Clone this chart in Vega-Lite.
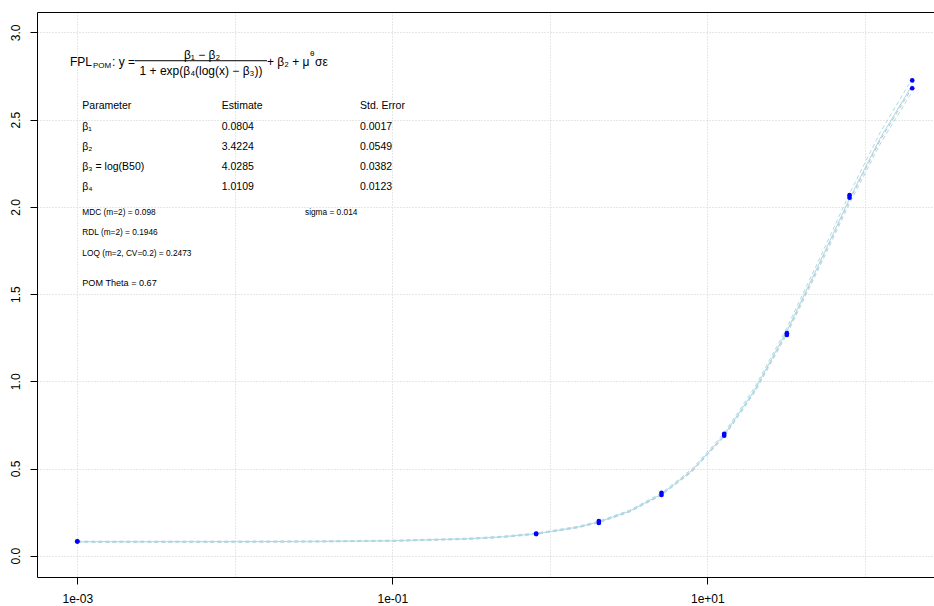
{
  "$schema": "https://vega.github.io/schema/vega-lite/v6.json",
  "width": 897,
  "height": 565,
  "autosize": {"type": "none"},
  "padding": {"left": 37, "top": 12, "right": 0, "bottom": 29},
  "background": "white",
  "view": {"stroke": null},
  "config": {"font": "Liberation Sans", "text": {"font": "Liberation Sans", "color": "#000000"}},
  "resolve": {"axis": {"x": "independent", "y": "independent"}},
  "datasets": {
    "curve": [
      {"x": 0.001, "fit": 0.0805, "upper": 0.0836, "lower": 0.0774, "grey": 0.0782},
      {"x": 0.003, "fit": 0.0806, "upper": 0.0837, "lower": 0.0775, "grey": 0.0783},
      {"x": 0.01, "fit": 0.0809, "upper": 0.0840, "lower": 0.0778, "grey": 0.0786},
      {"x": 0.03, "fit": 0.0820, "upper": 0.0851, "lower": 0.0789, "grey": 0.0797},
      {"x": 0.1, "fit": 0.0859, "upper": 0.0890, "lower": 0.0828, "grey": 0.0836},
      {"x": 0.3, "fit": 0.0972, "upper": 0.1005, "lower": 0.0939, "grey": 0.0948},
      {"x": 0.5, "fit": 0.1084, "upper": 0.1118, "lower": 0.1050, "grey": 0.1060},
      {"x": 0.8192, "fit": 0.1263, "upper": 0.1299, "lower": 0.1227, "grey": 0.1238},
      {"x": 1.5, "fit": 0.1640, "upper": 0.1681, "lower": 0.1599, "grey": 0.1613},
      {"x": 2.048, "fit": 0.1939, "upper": 0.1984, "lower": 0.1894, "grey": 0.1911},
      {"x": 3.2, "fit": 0.2553, "upper": 0.2606, "lower": 0.2500, "grey": 0.2523},
      {"x": 5.12, "fit": 0.3529, "upper": 0.3595, "lower": 0.3463, "grey": 0.3495},
      {"x": 8, "fit": 0.4894, "upper": 0.4978, "lower": 0.4810, "grey": 0.4854},
      {"x": 12.8, "fit": 0.6924, "upper": 0.7034, "lower": 0.6814, "grey": 0.6876},
      {"x": 20, "fit": 0.9506, "upper": 0.9650, "lower": 0.9362, "grey": 0.9448},
      {"x": 32, "fit": 1.2880, "upper": 1.3067, "lower": 1.2693, "grey": 1.2808},
      {"x": 50, "fit": 1.6531, "upper": 1.6766, "lower": 1.6296, "grey": 1.6445},
      {"x": 80, "fit": 2.0469, "upper": 2.0755, "lower": 2.0183, "grey": 2.0367},
      {"x": 125, "fit": 2.3924, "upper": 2.4255, "lower": 2.3593, "grey": 2.3808},
      {"x": 200, "fit": 2.6975, "upper": 2.7346, "lower": 2.6604, "grey": 2.6847}
    ],
    "pts": [
      {"conc": 0.001, "resp": 0.083}, {"conc": 0.001, "resp": 0.081},
      {"conc": 0.8192, "resp": 0.127}, {"conc": 0.8192, "resp": 0.124},
      {"conc": 2.048, "resp": 0.199}, {"conc": 2.048, "resp": 0.188},
      {"conc": 5.12, "resp": 0.361}, {"conc": 5.12, "resp": 0.348},
      {"conc": 12.8, "resp": 0.699}, {"conc": 12.8, "resp": 0.688},
      {"conc": 32, "resp": 1.276}, {"conc": 32, "resp": 1.266},
      {"conc": 80, "resp": 2.067}, {"conc": 80, "resp": 2.052},
      {"conc": 200, "resp": 2.725}, {"conc": 200, "resp": 2.680}
    ],
    "notes": [
      {"x": 0.000899, "y": 2.828, "label": "FPL", "group": "main"},
      {"x": 0.001258, "y": 2.806, "label": "POM", "group": "sub"},
      {"x": 0.001661, "y": 2.828, "label": ": y =", "group": "main"},
      {"x": 0.006189, "y": 2.870, "label": "β₁ − β₂", "group": "center"},
      {"x": 0.006100, "y": 2.7765, "label": "1 + exp(β₄(log(x) − β₃))", "group": "center"},
      {"x": 0.016014, "y": 2.828, "label": "+ β₂ + μ", "group": "main"},
      {"x": 0.030020, "y": 2.878, "label": "θ", "group": "sub"},
      {"x": 0.032296, "y": 2.828, "label": "σε", "group": "main"},
      {"x": 0.0010758, "y": 2.576, "label": "Parameter", "group": "table"},
      {"x": 0.008255, "y": 2.576, "label": "Estimate", "group": "table"},
      {"x": 0.062353, "y": 2.576, "label": "Std. Error", "group": "table"},
      {"x": 0.0010758, "y": 2.459, "label": "β₁", "group": "table"},
      {"x": 0.008255, "y": 2.459, "label": "0.0804", "group": "table"},
      {"x": 0.062353, "y": 2.459, "label": "0.0017", "group": "table"},
      {"x": 0.0010758, "y": 2.345, "label": "β₂", "group": "table"},
      {"x": 0.008255, "y": 2.345, "label": "3.4224", "group": "table"},
      {"x": 0.062353, "y": 2.345, "label": "0.0549", "group": "table"},
      {"x": 0.0010758, "y": 2.230, "label": "β₃ = log(B50)", "group": "table"},
      {"x": 0.008255, "y": 2.230, "label": "4.0285", "group": "table"},
      {"x": 0.062353, "y": 2.230, "label": "0.0382", "group": "table"},
      {"x": 0.0010758, "y": 2.116, "label": "β₄", "group": "table"},
      {"x": 0.008255, "y": 2.116, "label": "1.0109", "group": "table"},
      {"x": 0.062353, "y": 2.116, "label": "0.0123", "group": "table"},
      {"x": 0.0010758, "y": 1.962, "label": "MDC (m=2) = 0.098", "group": "small"},
      {"x": 0.027910, "y": 1.962, "label": "sigma = 0.014", "group": "small"},
      {"x": 0.0010758, "y": 1.848, "label": "RDL (m=2) = 0.1946", "group": "small"},
      {"x": 0.0010758, "y": 1.730, "label": "LOQ (m=2, CV=0.2) = 0.2473", "group": "small"},
      {"x": 0.0010758, "y": 1.561, "label": "POM Theta = 0.67", "group": "pom"}
    ],
    "bar": [
      {"x": 0.002324, "x2": 0.016014, "y": 2.8377}
    ]
  },
  "layer": [
    {
      "data": {"name": "curve"},
      "mark": {"type": "line", "color": "#bebebe", "strokeWidth": 1, "strokeDash": [4, 3]},
      "encoding": {
        "x": {"field": "x", "type": "quantitative",
          "scale": {"type": "log", "domain": [0.0005547, 275.0], "nice": false},
          "axis": {"orient": "top", "grid": true, "values": [0.001, 0.01, 0.1, 1, 10, 100],
            "gridColor": "#cfcfcf", "gridDash": [1, 2], "gridWidth": 1,
            "labels": false, "ticks": false, "domain": true, "domainColor": "#000000", "domainWidth": 1, "title": null}},
        "y": {"field": "grey", "type": "quantitative",
          "scale": {"domain": [-0.122, 3.117], "nice": false, "zero": false},
          "axis": {"orient": "left", "values": [0, 0.5, 1, 1.5, 2, 2.5, 3], "format": ".1f",
            "grid": true, "gridColor": "#cfcfcf", "gridDash": [1, 2], "gridWidth": 1,
            "tickSize": 7, "tickColor": "#000000", "domainColor": "#000000", "domainWidth": 1,
            "labelAngle": 270, "labelAlign": "center", "labelBaseline": "bottom", "labelPadding": 8,
            "labelFontSize": 12, "labelColor": "#000000", "labelFont": "Liberation Sans", "title": null}}
      }
    },
    {
      "data": {"name": "curve"},
      "mark": {"type": "line", "color": "#add8e6", "strokeWidth": 1, "strokeDash": [4, 3]},
      "encoding": {
        "x": {"field": "x", "type": "quantitative",
          "scale": {"type": "log", "domain": [0.0005547, 275.0], "nice": false},
          "axis": {"orient": "bottom", "grid": false, "values": [0.001, 0.1, 10],
            "labelExpr": "datum.value < 0.01 ? '1e-03' : (datum.value < 1 ? '1e-01' : '1e+01')",
            "tickSize": 7, "tickColor": "#000000", "domainColor": "#000000", "domainWidth": 1,
            "labelFontSize": 12, "labelPadding": 9, "labelColor": "#000000", "labelFont": "Liberation Sans",
            "labelFlush": false, "title": null}},
        "y": {"field": "lower", "type": "quantitative",
          "scale": {"domain": [-0.122, 3.117], "nice": false, "zero": false}, "axis": null}
      }
    },
    {
      "data": {"name": "curve"},
      "mark": {"type": "line", "color": "#add8e6", "strokeWidth": 1, "strokeDash": [4, 3]},
      "encoding": {
        "x": {"field": "x", "type": "quantitative", "scale": {"type": "log", "domain": [0.0005547, 275.0], "nice": false}, "axis": null},
        "y": {"field": "upper", "type": "quantitative", "scale": {"domain": [-0.122, 3.117], "nice": false, "zero": false}, "axis": null}
      }
    },
    {
      "data": {"name": "curve"},
      "mark": {"type": "line", "color": "#add8e6", "strokeWidth": 1},
      "encoding": {
        "x": {"field": "x", "type": "quantitative", "scale": {"type": "log", "domain": [0.0005547, 275.0], "nice": false}, "axis": null},
        "y": {"field": "fit", "type": "quantitative", "scale": {"domain": [-0.122, 3.117], "nice": false, "zero": false}, "axis": null}
      }
    },
    {
      "data": {"name": "pts"},
      "mark": {"type": "point", "shape": "circle", "filled": true, "size": 22, "color": "#0000ff", "opacity": 1},
      "encoding": {
        "x": {"field": "conc", "type": "quantitative", "scale": {"type": "log", "domain": [0.0005547, 275.0], "nice": false}, "axis": null},
        "y": {"field": "resp", "type": "quantitative", "scale": {"domain": [-0.122, 3.117], "nice": false, "zero": false}, "axis": null}
      }
    },
    {
      "data": {"name": "bar"},
      "mark": {"type": "rule", "color": "#000000", "strokeWidth": 1},
      "encoding": {
        "x": {"field": "x", "type": "quantitative", "scale": {"type": "log", "domain": [0.0005547, 275.0], "nice": false}, "axis": null},
        "x2": {"field": "x2"},
        "y": {"field": "y", "type": "quantitative", "scale": {"domain": [-0.122, 3.117], "nice": false, "zero": false}, "axis": null}
      }
    },
    {
      "data": {"name": "notes"},
      "transform": [{"filter": "datum.group == 'main'"}],
      "mark": {"type": "text", "align": "left", "baseline": "middle", "fontSize": 12, "font": "Liberation Sans", "color": "#000000"},
      "encoding": {
        "x": {"field": "x", "type": "quantitative", "scale": {"type": "log", "domain": [0.0005547, 275.0], "nice": false}, "axis": null},
        "y": {"field": "y", "type": "quantitative", "scale": {"domain": [-0.122, 3.117], "nice": false, "zero": false}, "axis": null},
        "text": {"field": "label"}
      }
    },
    {
      "data": {"name": "notes"},
      "transform": [{"filter": "datum.group == 'sub'"}],
      "mark": {"type": "text", "align": "left", "baseline": "middle", "fontSize": 8, "font": "Liberation Sans", "color": "#000000"},
      "encoding": {
        "x": {"field": "x", "type": "quantitative", "scale": {"type": "log", "domain": [0.0005547, 275.0], "nice": false}, "axis": null},
        "y": {"field": "y", "type": "quantitative", "scale": {"domain": [-0.122, 3.117], "nice": false, "zero": false}, "axis": null},
        "text": {"field": "label"}
      }
    },
    {
      "data": {"name": "notes"},
      "transform": [{"filter": "datum.group == 'center'"}],
      "mark": {"type": "text", "align": "center", "baseline": "middle", "fontSize": 12, "font": "Liberation Sans", "color": "#000000"},
      "encoding": {
        "x": {"field": "x", "type": "quantitative", "scale": {"type": "log", "domain": [0.0005547, 275.0], "nice": false}, "axis": null},
        "y": {"field": "y", "type": "quantitative", "scale": {"domain": [-0.122, 3.117], "nice": false, "zero": false}, "axis": null},
        "text": {"field": "label"}
      }
    },
    {
      "data": {"name": "notes"},
      "transform": [{"filter": "datum.group == 'table'"}],
      "mark": {"type": "text", "align": "left", "baseline": "middle", "fontSize": 10.5, "font": "Liberation Sans", "color": "#000000"},
      "encoding": {
        "x": {"field": "x", "type": "quantitative", "scale": {"type": "log", "domain": [0.0005547, 275.0], "nice": false}, "axis": null},
        "y": {"field": "y", "type": "quantitative", "scale": {"domain": [-0.122, 3.117], "nice": false, "zero": false}, "axis": null},
        "text": {"field": "label"}
      }
    },
    {
      "data": {"name": "notes"},
      "transform": [{"filter": "datum.group == 'small'"}],
      "mark": {"type": "text", "align": "left", "baseline": "middle", "fontSize": 8.3, "font": "Liberation Sans", "color": "#000000"},
      "encoding": {
        "x": {"field": "x", "type": "quantitative", "scale": {"type": "log", "domain": [0.0005547, 275.0], "nice": false}, "axis": null},
        "y": {"field": "y", "type": "quantitative", "scale": {"domain": [-0.122, 3.117], "nice": false, "zero": false}, "axis": null},
        "text": {"field": "label"}
      }
    },
    {
      "data": {"name": "notes"},
      "transform": [{"filter": "datum.group == 'pom'"}],
      "mark": {"type": "text", "align": "left", "baseline": "middle", "fontSize": 9.1, "font": "Liberation Sans", "color": "#000000"},
      "encoding": {
        "x": {"field": "x", "type": "quantitative", "scale": {"type": "log", "domain": [0.0005547, 275.0], "nice": false}, "axis": null},
        "y": {"field": "y", "type": "quantitative", "scale": {"domain": [-0.122, 3.117], "nice": false, "zero": false}, "axis": null},
        "text": {"field": "label"}
      }
    }
  ]
}
